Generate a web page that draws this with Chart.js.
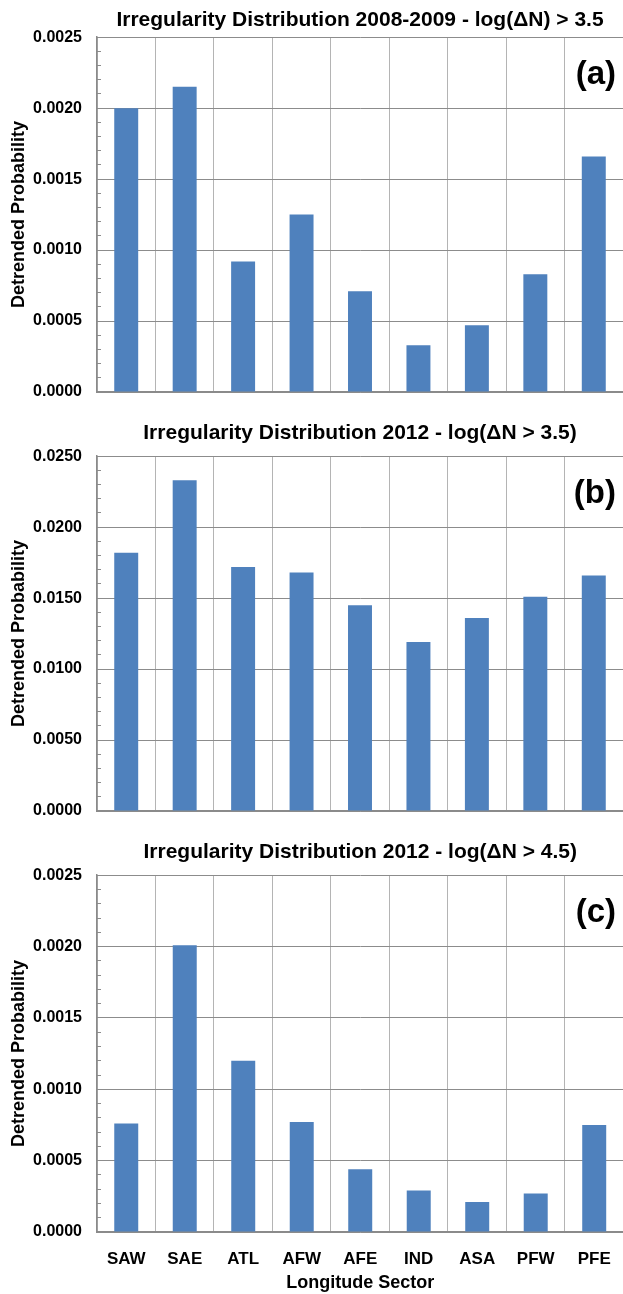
<!DOCTYPE html>
<html>
<head>
<meta charset="utf-8">
<script src="https://cdn.jsdelivr.net/npm/chart.js@4"></script>
<style>
  html, body { margin: 0; padding: 0; background: #fff; }
  #page { position: relative; width: 623px; height: 1294px; overflow: hidden; }
  .panel { position: absolute; left: 0; width: 623px; }
</style>
</head>
<body>
<div id="page">
  <div class="panel" style="top:0px;height:425px"><canvas id="chart-a"></canvas></div>
  <div class="panel" style="top:419px;height:425px"><canvas id="chart-b"></canvas></div>
  <!-- wider so the PFE label overhang does not pull the plot in -->
  <div class="panel" style="top:838px;height:456px;width:628px"><canvas id="chart-c"></canvas></div>
</div>
<script>
/* ─── Data ─────────────────────────────────────── */
const sectors = ['SAW', 'SAE', 'ATL', 'AFW', 'AFE', 'IND', 'ASA', 'PFW', 'PFE'];

const prob2008 = [0.00200, 0.00215, 0.00092, 0.00125, 0.00071, 0.00033, 0.00047, 0.00083, 0.00166];
const prob2012_35 = [0.0182, 0.0233, 0.0172, 0.0168, 0.0145, 0.0119, 0.0136, 0.0151, 0.0166];
const prob2012_45 = [0.00076, 0.00201, 0.00120, 0.00077, 0.00044, 0.00029, 0.00021, 0.00027, 0.00075];

const titles = [
  'Irregularity Distribution 2008-2009 - log(\u0394N) > 3.5',
  'Irregularity Distribution 2012 - log(\u0394N > 3.5)',
  'Irregularity Distribution 2012 - log(\u0394N > 4.5)'
];
const panelTags = ['(a)', '(b)', '(c)'];
const yMax  = [0.0025, 0.0250, 0.0025];
const yStep = [0.0005, 0.0050, 0.0005];

const FONT = 'Liberation Sans, Arial, sans-serif';
const BAR  = '#4F81BD';

/* panel tag "(a)" etc. drawn in the top right of the plot */
const tagPlugin = {
  id: 'panelTag',
  afterDraw(chart, args, opts) {
    const { ctx, chartArea } = chart;
    const right = Math.min(chartArea.right, 623);
    ctx.save();
    ctx.font = 'bold 33px ' + FONT;
    ctx.fillStyle = '#000';
    ctx.textAlign = 'right';
    ctx.textBaseline = 'alphabetic';
    ctx.fillText(opts.text, right - 7, chartArea.top + 47);
    ctx.restore();
  }
};

// axisH: height given to the x axis box (keeps the plot bottom in place)
function makeChart(id, values, i, showX, axisH, titlePad) {
  const major = yStep[i];
  const minor = major / 5;
  const isMajor = v => Math.abs(v / major - Math.round(v / major)) < 1e-6;

  return new Chart(document.getElementById(id), {
    type: 'bar',
    data: {
      labels: sectors,
      datasets: [{
        data: values,
        backgroundColor: BAR,
        borderWidth: 0,
        barPercentage: 0.41,
        categoryPercentage: 1.0
      }]
    },
    plugins: [tagPlugin],
    options: {
      responsive: true,
      maintainAspectRatio: false,
      animation: false,
      devicePixelRatio: 1,
      layout: { padding: 0 },
      plugins: {
        legend: { display: false },
        tooltip: { enabled: false },
        panelTag: { text: panelTags[i] },
        title: {
          display: true,
          text: titles[i],
          fullSize: false,
          color: '#000',
          font: { family: FONT, size: 21, weight: 'bold', lineHeight: 1.2 },
          padding: titlePad
        }
      },
      scales: {
        x: {
          offset: true,
          grid: { offset: true, color: '#b4b4b4', lineWidth: 1, drawTicks: false },
          border: { color: '#8a8a8a', width: 1.5 },
          ticks: {
            display: showX,
            color: '#000',
            padding: 17,
            font: { family: FONT, size: 17, weight: 'bold' }
          },
          title: {
            display: showX,
            text: 'Longitude Sector',
            color: '#000',
            font: { family: FONT, size: 18, weight: 'bold', lineHeight: 1.2 },
            padding: { top: 0, bottom: 0 }
          },
          afterFit: s => { s.height = axisH; }
        },
        y: {
          min: 0,
          max: yMax[i],
          grid: {
            color: c => isMajor(c.tick.value) ? '#8c8c8c' : 'rgba(0,0,0,0)',
            tickColor: '#8c8c8c',
            tickLength: -4,
            lineWidth: 1
          },
          border: { color: '#8a8a8a', width: 1.5 },
          ticks: {
            stepSize: minor,
            autoSkip: false,
            padding: 19,
            color: '#000',
            font: { family: FONT, size: 16, weight: 'bold' },
            callback: v => isMajor(v) ? v.toFixed(4) : ''
          },
          title: {
            display: true,
            text: 'Detrended Probability',
            color: '#000',
            font: { family: FONT, size: 18, weight: 'bold', lineHeight: 1.2 },
            padding: { top: 8, bottom: 0 }
          },
          afterFit: s => { s.width = 97; }
        }
      }
    }
  });
}

makeChart('chart-a', prob2008, 0, false, 33, { top: 8, bottom: 4 });
makeChart('chart-b', prob2012_35, 1, false, 33, { top: 2, bottom: 10 });
makeChart('chart-c', prob2012_45, 2, true, 62, { top: 2, bottom: 10 });
</script>
</body>
</html>
